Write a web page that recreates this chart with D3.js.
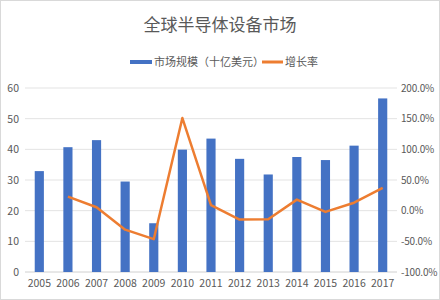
<!DOCTYPE html>
<html>
<head>
<meta charset="utf-8">
<script src="https://cdn.jsdelivr.net/npm/d3@7"></script>
<style>
  body { margin: 0; background: #fff; }
  text { font-family: "Noto Sans CJK SC", "Noto Sans", sans-serif; fill: #595959; }
</style>
</head>
<body>
<div id="chart"></div>
<script>
// ── Data ──
const years = ["2005", "2006", "2007", "2008", "2009", "2010", "2011", "2012", "2013", "2014", "2015", "2016", "2017"];
const marketSize = [32.9, 40.7, 43.0, 29.5, 15.9, 39.9, 43.5, 36.9, 31.8, 37.5, 36.5, 41.2, 56.6];
const growth = [null, 23.0, 5.5, -31.0, -46.5, 151.0, 9.0, -14.5, -14.0, 18.0, -2.0, 13.0, 37.0];
const leftTicks = [0, 10, 20, 30, 40, 50, 60];
const rightTicks = [-100, -50, 0, 50, 100, 150, 200];

const W = 440, H = 300;
const M = { t: 88, r: 43, b: 28, l: 25 };
const w = W - M.l - M.r;
const h = H - M.t - M.b;

const svg = d3.select("#chart").append("svg")
  .attr("width", W).attr("height", H);

// chart border
svg.append("rect")
  .attr("x", 0.5).attr("y", 0.5).attr("width", W - 1).attr("height", H - 1)
  .attr("fill", "#fff").attr("stroke", "#d9d9d9");

// ── Title & legend ──
svg.append("text")
  .attr("x", 220).attr("y", 31)
  .attr("text-anchor", "middle")
  .style("font-size", "17px")
  .text("全球半导体设备市场");

const leg = svg.append("g").attr("transform", "translate(130,62)");
leg.append("rect").attr("x", 0).attr("y", -2).attr("width", 22).attr("height", 4).attr("fill", "#4472C4");
leg.append("text").attr("x", 24).attr("y", 4).style("font-size", "11px").text("市场规模（十亿美元）");
leg.append("line").attr("x1", 132).attr("x2", 153).attr("y1", 0).attr("y2", 0)
  .attr("stroke", "#ED7D31").attr("stroke-width", 3);
leg.append("text").attr("x", 155).attr("y", 4).style("font-size", "11px").text("增长率");

const g = svg.append("g").attr("transform", `translate(${M.l},${M.t})`);

// ── Scales ──
const x = d3.scaleBand().domain(years).range([0, w]).paddingInner(0.68).paddingOuter(0.34);
const y = d3.scaleLinear().domain([0, 60]).range([h, 0]);
const y2 = d3.scaleLinear().domain([-100, 200]).range([h, 0]);

// gridlines
g.append("g")
  .selectAll("line")
  .data(leftTicks)
  .join("line")
  .attr("x1", 0).attr("x2", w)
  .attr("y1", d => y(d)).attr("y2", d => y(d))
  .attr("stroke", d => d === 0 ? "#d0d0d0" : "#e3e3e3")
  .attr("stroke-width", 1);

// left axis
const yAxis = g.append("g")
  .call(d3.axisLeft(y).tickValues(leftTicks).tickSize(0).tickPadding(6));
yAxis.select(".domain").remove();
yAxis.selectAll("text").style("font-size", "10.5px").attr("fill", "#595959");

// right axis
const y2Axis = g.append("g")
  .attr("transform", `translate(${w},0)`)
  .call(d3.axisRight(y2).tickValues(rightTicks).tickSize(0).tickPadding(4)
    .tickFormat(d => d.toFixed(1) + "%"));
y2Axis.select(".domain").remove();
y2Axis.selectAll("text").style("font-size", "10px").style("letter-spacing", "-0.2px").attr("fill", "#595959");

// bottom axis
const xAxis = g.append("g")
  .attr("transform", `translate(0,${h})`)
  .call(d3.axisBottom(x).tickSize(0).tickPadding(8));
xAxis.select(".domain").remove();
xAxis.selectAll("text").style("font-size", "10.5px").attr("fill", "#595959");

// ── Bars ──
g.selectAll(".bar")
  .data(years)
  .join("rect")
  .attr("class", "bar")
  .attr("x", d => x(d))
  .attr("width", x.bandwidth())
  .attr("y", (d, i) => y(marketSize[i]))
  .attr("height", (d, i) => h - y(marketSize[i]))
  .attr("fill", "#4472C4");

// ── Growth line ──
const lineData = years.map((d, i) => ({ year: d, v: growth[i] })).filter(d => d.v !== null);
g.append("path")
  .datum(lineData)
  .attr("fill", "none")
  .attr("stroke", "#ED7D31")
  .attr("stroke-width", 2.5)
  .attr("stroke-linejoin", "round")
  .attr("d", d3.line()
    .x(d => x(d.year) + x.bandwidth() / 2)
    .y(d => y2(d.v)));
</script>
</body>
</html>
